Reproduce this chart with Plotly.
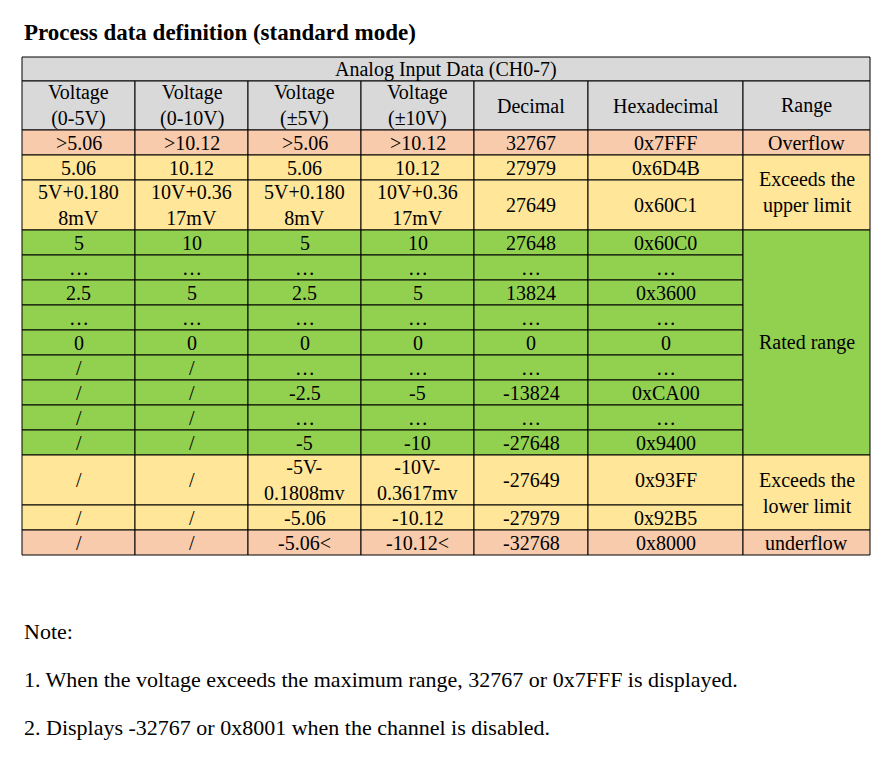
import plotly.graph_objects as go

title = "Process data definition (standard mode)"
group_header = "Analog Input Data (CH0-7)"
headers = ["Voltage<br>(0-5V)", "Voltage<br>(0-10V)", "Voltage<br>(±5V)", "Voltage<br>(±10V)",
           "Decimal", "Hexadecimal", "Range"]

v_0_5 = [">5.06", "5.06", "5V+0.180<br>8mV", "5", "…", "2.5", "…", "0", "/", "/", "/", "/", "/", "/", "/"]
v_0_10 = [">10.12", "10.12", "10V+0.36<br>17mV", "10", "…", "5", "…", "0", "/", "/", "/", "/", "/", "/", "/"]
v_pm5 = [">5.06", "5.06", "5V+0.180<br>8mV", "5", "…", "2.5", "…", "0", "…", "-2.5", "…", "-5",
         "-5V-<br>0.1808mv", "-5.06", "-5.06<"]
v_pm10 = [">10.12", "10.12", "10V+0.36<br>17mV", "10", "…", "5", "…", "0", "…", "-5", "…", "-10",
          "-10V-<br>0.3617mv", "-10.12", "-10.12<"]
decimal = ["32767", "27979", "27649", "27648", "…", "13824", "…", "0", "…", "-13824", "…", "-27648",
           "-27649", "-27979", "-32768"]
hexa = ["0x7FFF", "0x6D4B", "0x60C1", "0x60C0", "…", "0x3600", "…", "0", "…", "0xCA00", "…", "0x9400",
        "0x93FF", "0x92B5", "0x8000"]
# range column: (label, first row, last row, colour)
ranges = [("Overflow", 0, 0, "#f8cbad"),
          ("Exceeds the<br>upper limit", 1, 2, "#ffe699"),
          ("Rated range", 3, 11, "#92d050"),
          ("Exceeds the<br>lower limit", 12, 13, "#ffe699"),
          ("underflow", 14, 14, "#f8cbad")]
row_colors = ["#f8cbad", "#ffe699", "#ffe699"] + ["#92d050"] * 9 + ["#ffe699", "#ffe699", "#f8cbad"]
notes = ["Note:",
         "1. When the voltage exceeds the maximum range, 32767 or 0x7FFF is displayed.",
         "2. Displays -32767 or 0x8001 when the channel is disabled."]

col_edges = [22, 135, 248, 361, 474, 588, 743, 870]
row_heights = [25, 25, 50, 25, 25, 25, 25, 25, 25, 25, 25, 25, 50, 25, 25]
top_group, top_head, top_body = 57, 81, 130
row_edges = [top_body]
for h in row_heights:
    row_edges.append(row_edges[-1] + h)

font = "Liberation Serif"
line = dict(color="black", width=1)
shapes, anns = [], []

def cell(x0, x1, y0, y1, fill, text, size=20):
    shapes.append(dict(type="rect", x0=x0, x1=x1, y0=y0, y1=y1, fillcolor=fill, line=line, layer="below"))
    anns.append(dict(x=(x0 + x1) / 2, y=(y0 + y1) / 2, text=text, showarrow=False,
                     font=dict(family=font, size=size, color="black")))

cell(col_edges[0], col_edges[-1], top_group, top_head, "#d9d9d9", group_header)
for i, h in enumerate(headers):
    cell(col_edges[i], col_edges[i + 1], top_head, top_body, "#d9d9d9", h)

columns = [v_0_5, v_0_10, v_pm5, v_pm10, decimal, hexa]
for r in range(len(row_heights)):
    for c, col in enumerate(columns):
        cell(col_edges[c], col_edges[c + 1], row_edges[r], row_edges[r + 1], row_colors[r], col[r])
for label, r0, r1, color in ranges:
    cell(col_edges[6], col_edges[7], row_edges[r0], row_edges[r1 + 1], color, label)

anns.append(dict(x=22, y=32, text="<b>" + title + "</b>", showarrow=False, xanchor="left",
                 font=dict(family=font, size=23, color="black")))
for i, n in enumerate(notes):
    anns.append(dict(x=22, y=631 + i * 48, text=n, showarrow=False, xanchor="left",
                     font=dict(family=font, size=22, color="black")))

fig = go.Figure()
fig.update_layout(
    width=890, height=771, margin=dict(l=0, r=0, t=0, b=0),
    paper_bgcolor="white", plot_bgcolor="white",
    xaxis=dict(range=[8, 898], visible=False, fixedrange=True),
    yaxis=dict(range=[779, 8], visible=False, fixedrange=True),
    shapes=shapes, annotations=anns, showlegend=False,
)
fig.write_html("out.html", config={"displayModeBar": False})
